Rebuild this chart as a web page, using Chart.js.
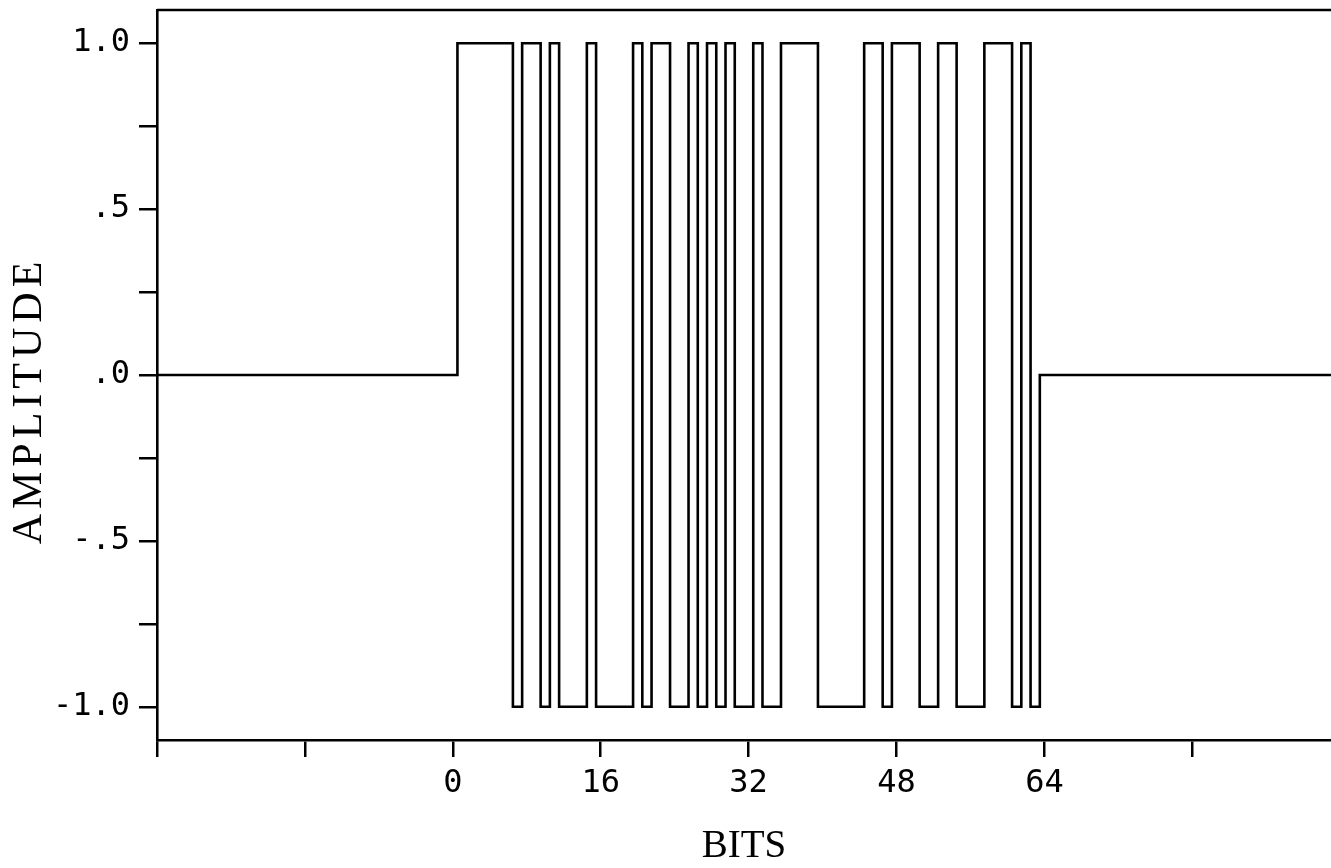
<!DOCTYPE html>
<html>
<head>
<meta charset="utf-8">
<script src="https://cdn.jsdelivr.net/npm/chart.js@4"></script>
<style>
    html, body { margin: 0; padding: 0; background: #ffffff; overflow: hidden; }
</style>
</head>
<body>
<canvas id="graficaBits" width="1331" height="868"></canvas>
<script>
        var grafica;

        // Secuencia de 63 bits (1 = +1, 0 = -1)
        var bits = [1,1,1,1,1,1, 0, 1,1, 0, 1, 0,0,0, 1, 0,0,0,0, 1, 0, 1,1, 0,0, 1, 0, 1, 0, 1, 0,0, 1, 0,0,
                    1,1,1,1, 0,0,0,0,0, 1,1, 0, 1,1,1, 0,0, 1,1, 0,0,0, 1,1,1, 0, 1, 0];
        var inicioBits = 0.5;
        var rangoX = [-32, 95];
        var rangoY = [-1.1, 1.1];
        var ticksX = [-32, -16, 0, 16, 32, 48, 64, 80];
        var etiquetasX = [0, 16, 32, 48, 64];
        var ticksY = [-1, -0.75, -0.5, -0.25, 0, 0.25, 0.5, 0.75, 1];
        var valoresEtiquetaY = [1, 0.5, 0, -0.5, -1];
        var textosEtiquetaY = ['1.0', '.5', '.0', '-.5', '-1.0'];
        var tituloY = 'AMPLITUDE';
        var tituloX = 'BITS';

        // Función para construir los puntos de la señal escalonada
        function construirPuntos() {
            var puntos = [{ x: rangoX[0], y: 0 }];
            for (var i = 0; i < bits.length; i++) {
                puntos.push({ x: inicioBits + i, y: bits[i] ? 1 : -1 });
            }
            puntos.push({ x: inicioBits + bits.length, y: 0 });
            puntos.push({ x: rangoX[1], y: 0 });
            return puntos;
        }

        // Plugin para dibujar el borde superior y el título vertical
        var extras = {
            id: 'extras',
            afterDraw: function (chart) {
                var area = chart.chartArea;
                var ctx = chart.ctx;
                ctx.save();
                ctx.strokeStyle = '#000';
                ctx.lineWidth = 2.5;
                ctx.beginPath();
                ctx.moveTo(area.left, area.top);
                ctx.lineTo(area.right, area.top);
                ctx.stroke();

                ctx.translate(30, 403);
                ctx.rotate(-Math.PI / 2);
                ctx.fillStyle = '#000';
                ctx.font = "42px 'Liberation Serif', serif";
                ctx.letterSpacing = '5px';
                ctx.textAlign = 'center';
                ctx.textBaseline = 'middle';
                ctx.fillText(tituloY, 2.5, 0);
                ctx.restore();
            }
        };

        var fuenteTicks = { family: "'DejaVu Sans Mono', monospace", size: 32 };
        var fuenteTitulo = { family: "'Liberation Serif', serif", size: 39, lineHeight: 1 };

        function crearGrafica() {
            var ctx = document.getElementById('graficaBits').getContext('2d');
            grafica = new Chart(ctx, {
                type: 'line',
                data: {
                    datasets: [{
                        data: construirPuntos(),
                        borderColor: '#000',
                        borderWidth: 2.6,
                        pointRadius: 0,
                        stepped: true,
                        fill: false
                    }]
                },
                options: {
                    responsive: false,
                    animation: false,
                    layout: { padding: { top: 10, left: 0, right: 0, bottom: 0 } },
                    plugins: { legend: { display: false }, tooltip: { enabled: false } },
                    scales: {
                        x: {
                            type: 'linear',
                            min: rangoX[0],
                            max: rangoX[1],
                            afterBuildTicks: function (s) {
                                s.ticks = ticksX.map(function (v) { return { value: v }; });
                            },
                            afterFit: function (s) {
                                s.height = 128;
                                s.paddingLeft = 0;
                                s.paddingRight = 0;
                            },
                            ticks: {
                                autoSkip: false,
                                maxRotation: 0,
                                padding: 7,
                                color: '#000',
                                font: fuenteTicks,
                                callback: function (v) {
                                    return etiquetasX.indexOf(v) >= 0 ? String(v) : '';
                                }
                            },
                            grid: { drawOnChartArea: false, tickLength: 17, color: '#000', lineWidth: 2.5 },
                            border: { color: '#000', width: 2.6 },
                            title: { display: true, text: tituloX, color: '#000', font: fuenteTitulo, padding: { top: 0, bottom: 2 } }
                        },
                        y: {
                            min: rangoY[0],
                            max: rangoY[1],
                            afterBuildTicks: function (s) {
                                s.ticks = ticksY.map(function (v) { return { value: v }; });
                            },
                            afterFit: function (s) {
                                s.width = 157;
                                s.paddingTop = 0;
                                s.paddingBottom = 0;
                            },
                            ticks: {
                                autoSkip: false,
                                padding: 9,
                                color: '#000',
                                font: fuenteTicks,
                                callback: function (v) {
                                    var k = valoresEtiquetaY.indexOf(v);
                                    return k >= 0 ? textosEtiquetaY[k] : '';
                                }
                            },
                            grid: { drawOnChartArea: false, tickLength: 18, color: '#000', lineWidth: 2.5 },
                            border: { color: '#000', width: 2.6 }
                        }
                    }
                },
                plugins: [extras]
            });
        }

        crearGrafica();
</script>
</body>
</html>
